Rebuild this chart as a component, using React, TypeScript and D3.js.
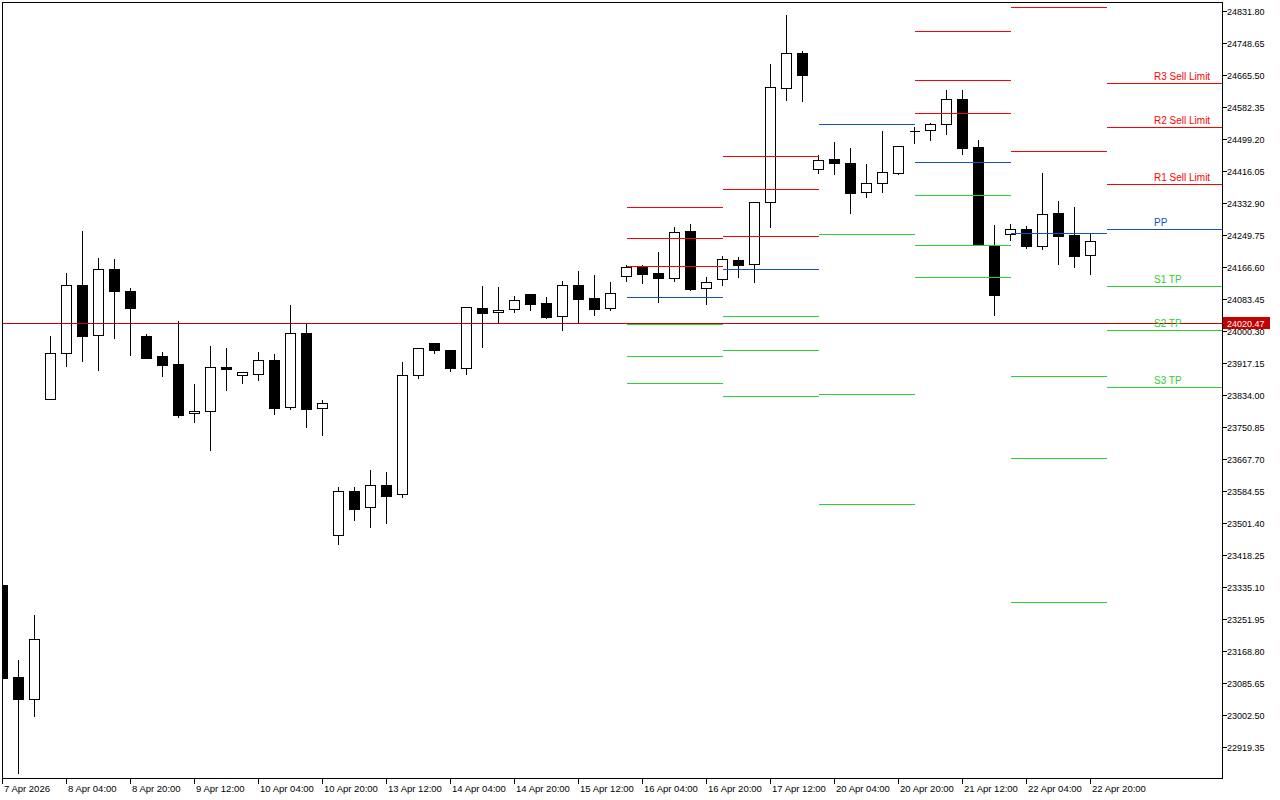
import React from "react";
import * as d3 from "d3";

// ---- Data (H4 candles, 7 Apr 2026 12:00 .. 22 Apr 2026 20:00) ----
const opens = [
  23340.3, 23101.24, 23044.07, 23823.61, 23943.13, 24119.83, 23989.91, 24161.4, 24104.24, 23987.31,
  23935.34, 23914.55, 23787.23, 23792.42, 23906.76, 23885.97, 23888.57, 23924.94, 23802.82, 23995.1,
  23800.22, 23470.22, 23584.55, 23542.98, 23600.14, 23576.75, 23885.97, 23969.12, 23950.93, 23904.16,
  24060.07, 24049.67, 24057.47, 24096.44, 24073.06, 24039.28, 24119.83, 24086.05, 24060.07, 24143.21,
  24166.6, 24151.01, 24138.02, 24260.14, 24112.03, 24135.42, 24184.79, 24174.4, 24335.5, 24631.72,
  24722.67, 24421.25, 24447.23, 24436.84, 24361.48, 24384.87, 24410.85, 24519.99, 24522.59, 24538.18,
  24603.14, 24478.41, 24223.77, 24252.35, 24265.34, 24221.17, 24306.92, 24249.75, 24197.78,
];
const highs = [
  23340.3, 23148.01, 23264.94, 23989.91, 24153.61, 24262.74, 24192.58, 24189.98, 24114.63, 23995.1,
  23948.33, 24028.88, 23865.18, 23963.92, 23958.73, 23893.76, 23948.33, 23943.13, 24070.46, 24023.69,
  23823.61, 23597.54, 23597.54, 23641.72, 23636.52, 23922.35, 23958.73, 23969.12, 23950.93, 24065.26,
  24119.83, 24117.23, 24093.84, 24096.44, 24091.25, 24132.82, 24158.8, 24148.41, 24130.22, 24174.4,
  24174.4, 24208.17, 24273.14, 24280.93, 24143.21, 24197.78, 24195.18, 24338.1, 24696.68, 24824.0,
  24730.46, 24460.22, 24494.0, 24478.41, 24436.84, 24522.59, 24483.61, 24532.98, 24543.37, 24629.12,
  24629.12, 24499.2, 24278.33, 24280.93, 24275.73, 24413.45, 24340.7, 24325.1, 24254.95,
];
const lows = [
  23098.64, 22851.79, 22999.9, 23823.61, 23909.35, 23922.35, 23898.96, 23982.11, 23937.94, 23930.14,
  23883.37, 23776.83, 23763.84, 23691.08, 23847.0, 23865.18, 23872.98, 23784.63, 23797.63, 23750.85,
  23730.06, 23446.83, 23509.2, 23491.01, 23501.4, 23568.96, 23878.18, 23943.13, 23896.36, 23888.57,
  23958.73, 24021.09, 24049.67, 24054.87, 24034.08, 24002.9, 24021.09, 24041.88, 24054.87, 24130.22,
  24125.02, 24075.66, 24130.22, 24106.83, 24070.46, 24119.83, 24140.62, 24127.62, 24270.54, 24600.54,
  24597.94, 24410.85, 24408.25, 24306.92, 24348.49, 24361.48, 24408.25, 24488.8, 24496.6, 24512.19,
  24460.22, 24223.77, 24041.88, 24236.76, 24215.97, 24213.37, 24174.4, 24166.6, 24148.41,
];
const closes = [
  23098.64, 23044.07, 23199.98, 23943.13, 24119.83, 23987.31, 24161.4, 24104.24, 24060.07, 23930.14,
  23911.95, 23782.03, 23792.42, 23906.76, 23901.56, 23893.76, 23924.94, 23800.22, 23995.1, 23797.63,
  23813.21, 23584.55, 23537.78, 23600.14, 23571.56, 23885.97, 23956.13, 23950.93, 23904.16, 24062.66,
  24047.07, 24054.87, 24080.85, 24070.46, 24036.68, 24119.83, 24083.45, 24057.47, 24099.04, 24166.6,
  24148.41, 24138.02, 24257.55, 24109.43, 24127.62, 24187.39, 24171.8, 24335.5, 24634.32, 24722.67,
  24665.5, 24444.63, 24436.84, 24358.88, 24384.87, 24413.45, 24481.01, 24519.99, 24538.18, 24603.14,
  24475.81, 24223.77, 24093.84, 24265.34, 24221.17, 24304.32, 24247.15, 24195.18, 24234.16,
];

// time axis labels, every 4th bar
const timeLabels = [
  "7 Apr 2026", "8 Apr 04:00", "8 Apr 20:00", "9 Apr 12:00", "10 Apr 04:00", "10 Apr 20:00",
  "13 Apr 12:00", "14 Apr 04:00", "14 Apr 20:00", "15 Apr 12:00", "16 Apr 04:00", "16 Apr 20:00",
  "17 Apr 12:00", "20 Apr 04:00", "20 Apr 20:00", "21 Apr 12:00", "22 Apr 04:00", "22 Apr 20:00",
];
const timeLabelBars = [0, 4, 8, 12, 16, 20, 24, 28, 32, 36, 40, 44, 48, 52, 56, 60, 64, 68];

// price axis labels
const priceTicks = [
  24831.8, 24748.65, 24665.5, 24582.35, 24499.2, 24416.05, 24332.9, 24249.75, 24166.6, 24083.45,
  24000.3, 23917.15, 23834.0, 23750.85, 23667.7, 23584.55, 23501.4, 23418.25, 23335.1, 23251.95,
  23168.8, 23085.65, 23002.5, 22919.35,
];

// daily pivot levels: 16, 17, 20, 21, 22 Apr and projection for 23 Apr
const pivotStartBar = [39, 45, 51, 57, 63, 69];
const pivotEndBar = [45, 51, 57, 63, 69, -1];
const pivR3 = [24322.51, 24455.03, 25655.5, 24779.83, 25052.67, 24644.71];
const pivR2 = [24241.96, 24369.28, 25239.75, 24652.51, 24842.19, 24530.38];
const pivR1 = [24169.2, 24247.15, 24953.93, 24566.76, 24468.02, 24382.27];
const pivPP = [24088.65, 24161.4, 24538.18, 24439.44, 24254.95, 24265.34];
const pivS1 = [24018.49, 24039.28, 24252.35, 24353.69, 23883.37, 24117.23];
const pivS2 = [23935.34, 23950.93, 23836.6, 24223.77, 23670.3, 24002.9];
const pivS3 = [23865.18, 23831.4, 23550.77, 24140.62, 23296.12, 23854.79];
const pivotNames = ["R3 Sell Limit", "R2 Sell Limit", "R1 Sell Limit", "PP", "S1 TP", "S2 TP", "S3 TP"];

const currentPrice = 24020.47;

// ---- Styles ----
const RED = "#FF0000";
const BLUE = "#1450C8";
const GREEN = "#32CD32";
const PRICE_RED = "#C40000";
const FONT = "'Liberation Sans', Arial, sans-serif";

const W = 1280;
const H = 800;
const LEFT = 2.5;
const TOP = 2.5;
const RIGHT = 1222.5;
const BOTTOM = 778.5;

export default function App() {
  const n = opens.length;
  const x = d3.scaleLinear().domain([0, 68]).range([2.5, 1090.5]);
  const y = d3.scaleLinear().domain([22919.35, 24831.8]).range([747, 11]);
  const py = (v: number) => Math.round(y(v)) + 0.5;

  const levelSets = [pivR3, pivR2, pivR1, pivPP, pivS1, pivS2, pivS3];
  const levelColors = [RED, RED, RED, BLUE, GREEN, GREEN, GREEN];

  const candles = d3.range(n).map((i) => {
    const cx = x(i);
    const o = py(opens[i]);
    const c = py(closes[i]);
    const hi = py(highs[i]);
    const lo = py(lows[i]);
    const top = Math.min(o, c);
    const bot = Math.max(o, c);
    const bull = closes[i] >= opens[i];
    return (
      <g key={i}>
        <line x1={cx} x2={cx} y1={hi} y2={lo} stroke="#000" strokeWidth={1} />
        {bot - top < 1 ? (
          <line x1={cx - 5} x2={cx + 5} y1={top} y2={top} stroke="#000" strokeWidth={1} />
        ) : (
          <rect
            x={cx - 5}
            y={top}
            width={10}
            height={bot - top}
            fill={bull ? "#fff" : "#000"}
            stroke="#000"
            strokeWidth={1}
          />
        )}
      </g>
    );
  });

  const pivotLines: React.ReactNode[] = [];
  pivotStartBar.forEach((sb, d) => {
    const x1 = x(sb);
    const x2 = pivotEndBar[d] < 0 ? RIGHT : x(pivotEndBar[d]);
    levelSets.forEach((arr, k) => {
      const yy = py(arr[d]);
      pivotLines.push(
        <line key={`p${d}-${k}`} x1={x1} x2={x2} y1={yy} y2={yy} stroke={levelColors[k]} strokeWidth={1} />
      );
    });
  });

  const last = pivotStartBar.length - 1;
  const pivotTexts = levelSets.map((arr, k) => (
    <text
      key={`pt${k}`}
      x={1154}
      y={py(arr[last]) - 3.5}
      fill={levelColors[k]}
      fontSize={10}
      fontFamily={FONT}
    >
      {pivotNames[k]}
    </text>
  ));

  const cpY = py(currentPrice);

  return (
    <svg
      width={W}
      height={H}
      style={{ position: "absolute", left: 0, top: 0, background: "#fff" }}
      shapeRendering="crispEdges"
    >
      <defs>
        <clipPath id="plot">
          <rect x={3} y={3} width={RIGHT - 3} height={BOTTOM - 3} />
        </clipPath>
      </defs>
      <rect x={0} y={0} width={W} height={H} fill="#fff" />
      <g clipPath="url(#plot)">
        {candles}
        {pivotLines}
        <line x1={LEFT} x2={RIGHT} y1={cpY} y2={cpY} stroke={PRICE_RED} strokeWidth={1} />
        <g shapeRendering="auto">{pivotTexts}</g>
      </g>
      {/* frame */}
      <rect x={LEFT} y={TOP} width={RIGHT - LEFT} height={BOTTOM - TOP} fill="none" stroke="#000" strokeWidth={1} />
      {/* price axis */}
      {priceTicks.map((v, i) => {
        const yy = py(v);
        return (
          <g key={`yt${i}`}>
            <line x1={RIGHT} x2={RIGHT + 4} y1={yy} y2={yy} stroke="#000" />
            <text
              x={1227}
              y={yy + 3.5}
              fontSize={9}
              fontFamily={FONT}
              fill="#000"
              shapeRendering="auto"
            >
              {v.toFixed(2)}
            </text>
          </g>
        );
      })}
      {/* current price label */}
      <rect x={1223} y={cpY - 6.5} width={47} height={12} fill={PRICE_RED} />
      <text x={1227} y={cpY + 3.5} fontSize={9} fontFamily={FONT} fill="#fff">
        {currentPrice.toFixed(2)}
      </text>
      {/* time axis */}
      {timeLabelBars.map((b, i) => {
        const xx = Math.floor(x(b)) + 0.5;
        return (
          <g key={`xt${i}`}>
            <line x1={xx} x2={xx} y1={BOTTOM} y2={BOTTOM + 5} stroke="#000" />
            <text x={xx + 1.5} y={792} fontSize={9.5} fontFamily={FONT} fill="#000">
              {timeLabels[i]}
            </text>
          </g>
        );
      })}
    </svg>
  );
}
